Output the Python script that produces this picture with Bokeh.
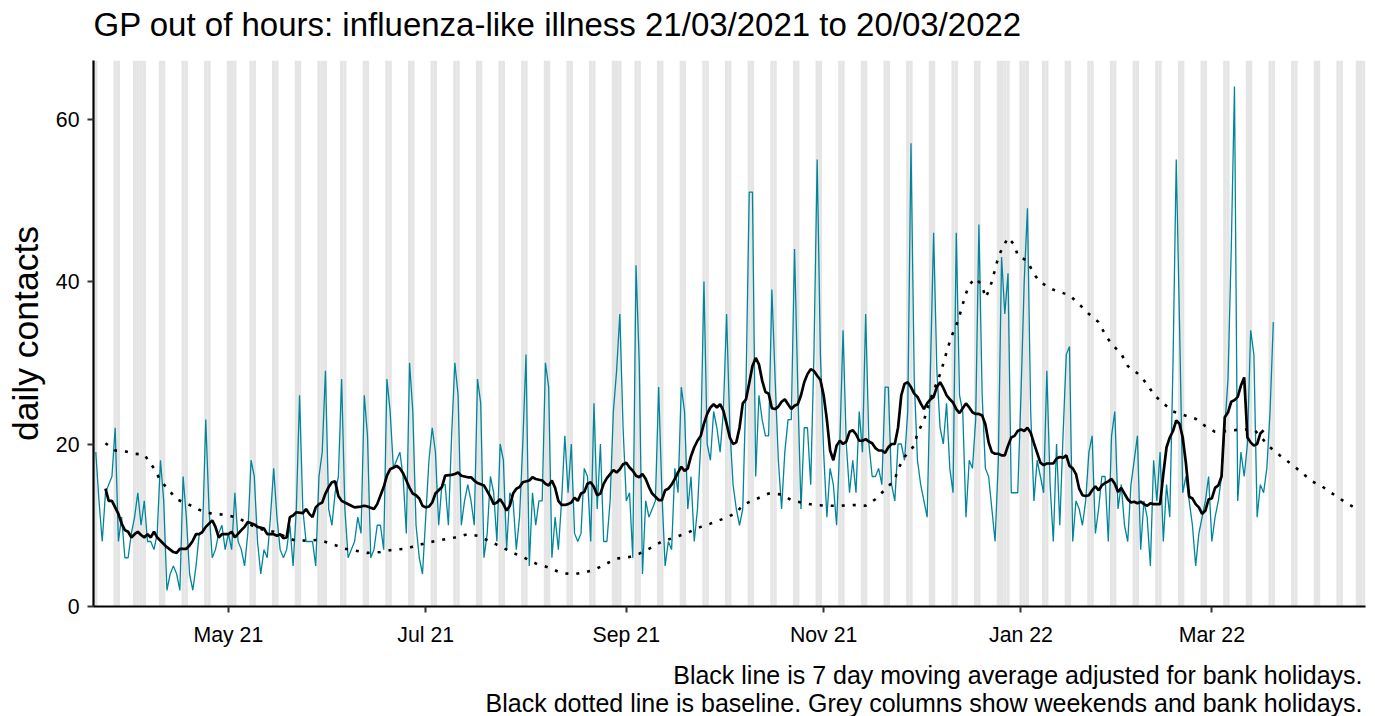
import pandas as pd
from bokeh.plotting import figure
from bokeh.models import (Range1d, FixedTicker, DatetimeTickFormatter, Title,
                          LinearAxis, CustomJSTickFormatter)
from bokeh.embed import file_html
from bokeh.resources import INLINE

# ---------------- data ----------------
start_date = "2021-03-21"
axis_end_date = "2022-04-17"

# daily contacts, 21/03/2021 .. 20/03/2022 (one value per day)
daily_contacts = [
    19, 13, 8, 14, 15, 16, 22, 8, 11, 6, 6, 9, 11, 14, 10, 13, 8, 8, 7, 9, 18,
    13, 2, 4, 5, 4, 2, 16, 11, 4, 2, 5, 9, 9, 23, 12, 6, 7, 9, 10, 7, 9,
    7, 14, 8, 7, 5, 9, 18, 16, 8, 4, 7, 6, 11, 17, 11, 7, 6, 7, 10, 5, 12,
    26, 12, 8, 8, 8, 5, 16, 19, 29, 12, 10, 14, 16, 28, 12, 6, 7, 8, 11, 9,
    26, 21, 6, 7, 10, 10, 7, 28, 24, 17, 18, 19, 16, 9, 30, 24, 10, 6, 4, 11,
    18, 22, 19, 10, 15, 15, 10, 21, 30, 26, 10, 13, 15, 13, 10, 28, 25, 6, 9,
    16, 14, 8, 20, 18, 7, 14, 13, 7, 11, 20, 31, 5, 14, 10, 13, 13, 30, 27, 6,
    11, 7, 13, 21, 14, 20, 9, 8, 9, 17, 16, 8, 25, 12, 20, 8, 8, 13, 24, 29,
    36, 22, 13, 14, 6, 42, 30, 4, 13, 11, 12, 13, 27, 14, 5, 8, 7, 17, 14, 27,
    24, 12, 16, 8, 12, 20, 40, 20, 18, 24, 22, 19, 24, 36, 22, 15, 12, 10, 12,
    27, 51, 51, 16, 26, 23, 21, 21, 39, 28, 18, 12, 19, 23, 23, 44, 27, 12, 22,
    22, 15, 31, 55, 31, 19, 11, 17, 15, 10, 20, 34, 20, 14, 18, 14, 24, 19, 36,
    20, 16, 16, 17, 15, 27, 27, 15, 13, 20, 20, 18, 24, 57, 28, 18, 15, 13, 11,
    29, 46, 29, 22, 20, 25, 17, 14, 46, 26, 24, 11, 18, 17, 23, 47, 26, 17, 16,
    12, 8, 18, 43, 36, 41, 14, 14, 14, 26, 40, 49, 24, 13, 18, 16, 14, 29, 15,
    8, 20, 10, 21, 31, 32, 8, 13, 12, 10, 13, 19, 21, 9, 12, 16, 16, 8, 21, 24,
    12, 15, 10, 8, 15, 18, 21, 7, 13, 11, 5, 18, 13, 19, 8, 15, 11, 30, 55, 35,
    14, 16, 13, 10, 5, 9, 11, 13, 16, 8, 11, 13, 16, 22, 28, 44, 64, 13, 19,
    16, 20, 34, 31, 11, 15, 14, 17, 24, 35,
]

# 7 day moving average (day number counted from 21/03/2021, value)
ma_day = [
    3, 4, 5, 6, 7, 8, 9, 10, 11, 12, 13, 14, 15, 16, 17, 18, 19, 20, 21, 22, 24,
    25, 26, 28, 29, 30, 31, 32, 33, 34, 35, 36, 37, 38, 39, 41, 42, 43, 45, 46,
    47, 49, 50, 52, 53, 55, 56, 57, 58, 59, 60, 61, 62, 64, 65, 66, 67, 68, 69,
    70, 71, 72, 73, 74, 75, 76, 77, 79, 80, 82, 83, 84, 86, 87, 89, 90, 91, 93,
    94, 95, 96, 97, 98, 99, 100, 101, 102, 103, 104, 105, 106, 107, 108, 110,
    111, 112, 113, 115, 116, 117, 118, 120, 121, 122, 123, 124, 125, 126, 127,
    128, 129, 130, 131, 132, 134, 135, 136, 138, 139, 140, 141, 142, 143, 144,
    145, 146, 147, 148, 149, 150, 151, 152, 153, 154, 155, 156, 157, 158, 159,
    160, 161, 162, 163, 164, 165, 166, 167, 168, 169, 170, 171, 172, 173, 174,
    175, 176, 177, 178, 179, 180, 181, 182, 183, 184, 185, 186, 187, 188, 189,
    190, 191, 192, 193, 194, 195, 196, 197, 198, 199, 200, 201, 202, 203, 204,
    205, 206, 207, 208, 209, 210, 211, 212, 213, 214, 215, 216, 217, 218, 219,
    220, 221, 222, 223, 224, 225, 226, 227, 228, 229, 230, 231, 232, 233, 234,
    235, 236, 237, 238, 239, 240, 241, 242, 243, 244, 245, 246, 247, 248, 249,
    250, 251, 252, 253, 254, 255, 256, 257, 258, 259, 260, 261, 262, 263, 264,
    265, 266, 267, 268, 269, 270, 271, 272, 273, 274, 275, 276, 277, 278, 279,
    280, 281, 282, 283, 284, 285, 286, 287, 288, 289, 290, 291, 292, 293, 294,
    296, 297, 298, 299, 300, 301, 302, 303, 304, 305, 306, 307, 308, 309, 310,
    311, 312, 313, 314, 315, 316, 317, 318, 319, 320, 321, 322, 323, 324, 325,
    326, 327, 329, 330, 331, 332, 333, 334, 335, 336, 337, 338, 339, 340, 341,
    342, 343, 344, 345, 346, 347, 348, 349, 350, 351, 352, 353, 354, 355, 356,
    357, 358, 359, 360, 361,
]
ma_value = [
    14.5, 13.0, 13.0, 12.2, 11.4, 10.2, 9.4, 9.2, 8.5, 8.9, 9.2, 8.8, 8.5, 8.9,
    8.5, 9.2, 8.5, 8.1, 7.7, 7.3, 6.7, 6.6, 7.1, 7.1, 7.5, 8.1, 8.9, 8.9, 9.2,
    9.8, 10.2, 10.6, 9.8, 8.5, 8.9, 8.9, 9.2, 8.5, 9.4, 9.8, 10.4, 10.1, 9.8,
    9.6, 8.9, 8.9, 8.7, 8.9, 8.4, 8.5, 11.0, 11.2, 11.6, 11.5, 12.0, 11.4, 11.0,
    12.2, 12.6, 12.8, 13.9, 14.7, 15.3, 15.4, 13.6, 13.0, 12.8, 12.4, 12.2,
    12.3, 12.4, 12.3, 12.0, 12.6, 14.7, 16.1, 16.9, 17.3, 17.0, 16.4, 15.5,
    14.6, 13.9, 13.7, 13.3, 12.4, 12.2, 12.3, 12.8, 13.9, 14.3, 14.7, 16.1,
    16.2, 16.3, 16.5, 16.1, 15.9, 15.9, 15.5, 15.2, 14.9, 14.2, 13.5, 12.6,
    12.8, 13.2, 12.6, 11.8, 12.4, 13.9, 14.5, 14.7, 15.3, 15.5, 15.9, 15.7,
    15.5, 15.1, 14.9, 15.5, 14.6, 13.0, 12.5, 12.5, 12.6, 12.8, 13.4, 13.0,
    13.9, 14.1, 15.1, 15.3, 14.7, 13.7, 13.9, 15.1, 15.8, 16.3, 16.8, 16.5,
    16.9, 17.5, 17.7, 17.1, 16.7, 16.1, 15.9, 16.3, 15.7, 14.7, 13.9, 13.5,
    13.1, 13.1, 14.3, 14.5, 15.0, 15.7, 16.5, 17.2, 16.7, 17.0, 18.5, 19.6,
    20.4, 21.0, 22.5, 23.7, 24.5, 24.9, 24.5, 24.9, 24.1, 22.5, 20.8, 20.0,
    20.2, 22.0, 25.0, 25.5, 27.5, 29.6, 30.6, 29.8, 27.8, 26.4, 26.2, 24.4,
    24.3, 24.6, 25.2, 25.5, 24.9, 24.3, 24.7, 24.9, 26.0, 27.6, 28.6, 29.2,
    29.0, 28.4, 27.9, 26.0, 23.0, 19.2, 18.0, 19.8, 20.4, 20.0, 20.3, 21.5,
    21.7, 21.2, 20.4, 20.4, 20.6, 20.3, 20.1, 19.5, 19.2, 19.2, 18.9, 19.6,
    20.0, 20.0, 22.0, 26.0, 27.4, 27.6, 27.0, 26.2, 25.8, 25.0, 24.3, 25.0,
    25.5, 25.8, 27.0, 27.6, 26.9, 26.0, 25.5, 25.1, 24.3, 23.8, 24.4, 25.0,
    24.5, 23.9, 23.7, 23.7, 23.5, 22.4, 20.2, 19.0, 18.8, 18.8, 18.6, 18.6,
    19.8, 20.8, 21.0, 21.6, 21.8, 21.6, 22.0, 21.4, 20.1, 18.9, 17.7, 17.4,
    17.6, 17.6, 18.2, 18.4, 18.3, 18.6, 17.3, 17.0, 16.3, 14.5, 13.7, 13.6,
    13.7, 14.3, 14.8, 14.3, 14.9, 15.2, 15.4, 15.7, 15.1, 14.1, 14.6, 13.9,
    13.2, 12.8, 12.9, 12.7, 12.9, 12.6, 12.4, 12.7, 12.6, 12.6, 16.3, 19.6,
    20.8, 21.6, 22.9, 22.5, 20.8, 17.6, 13.5, 13.3, 12.6, 12.2, 11.4, 11.8,
    13.2, 13.3, 14.6, 14.9, 16.0, 23.3, 23.9, 25.2, 25.4, 25.8, 27.2, 28.2,
    20.8, 20.2, 19.8, 20.0, 21.3, 21.7,
]

# baseline (day number counted from 21/03/2021, value)
baseline_day = [
    3, 6, 9, 12, 15, 18, 20, 22, 25, 29, 32, 36, 40, 44, 50, 55, 61, 65, 69, 73,
    77, 80, 84, 88, 92, 96, 99, 103, 107, 111, 115, 118, 122, 125, 129, 133,
    136, 140, 144, 148, 151, 154, 158, 161, 165, 168, 172, 175, 179, 183, 187,
    190, 194, 198, 200, 204, 208, 212, 215, 219, 222, 226, 230, 234, 238, 241,
    244, 247, 248, 250, 253, 254, 256, 258, 261, 262, 263, 264, 265, 266, 267,
    268, 269, 270, 272, 274, 275, 276, 277, 278, 279, 280, 282, 284, 285, 288,
    290, 292, 296, 301, 304, 307, 310, 312, 314, 317, 319, 322, 325, 327, 330,
    333, 336, 340, 343, 346, 350, 354, 358, 363, 366, 370, 373, 376, 379, 383,
    386, 389,
]
baseline_value = [
    20.1, 19.2, 19.1, 18.8, 18.7, 17.0, 15.5, 14.6, 13.2, 12.5, 11.9, 11.4,
    11.3, 10.9, 9.6, 9.2, 8.2, 8.1, 8.2, 7.7, 7.1, 6.9, 6.6, 6.7, 7.0, 7.1,
    7.5, 7.9, 8.2, 8.5, 8.9, 8.7, 8.0, 7.4, 6.6, 5.9, 5.3, 4.8, 4.1, 4.0, 4.2,
    4.5, 5.3, 5.9, 6.1, 6.5, 7.3, 8.0, 8.5, 9.1, 9.8, 10.2, 10.8, 11.5, 12.5,
    13.2, 13.9, 13.8, 13.1, 12.7, 12.5, 12.4, 12.4, 12.5, 12.4, 13.2, 14.4,
    15.6, 16.9, 18.4, 19.8, 21.3, 22.9, 25.5, 28.6, 29.9, 31.3, 32.6, 33.7,
    34.6, 35.8, 37.2, 38.5, 39.6, 40.4, 39.5, 38.0, 38.8, 40.0, 41.5, 43.0,
    43.9, 45.4, 44.5, 43.2, 42.5, 40.9, 39.9, 39.0, 38.3, 37.2, 36.0, 35.0,
    33.5, 32.3, 31.1, 29.6, 28.7, 27.4, 26.1, 25.0, 24.0, 23.6, 23.1, 22.2,
    21.5, 21.6, 21.8, 21.8, 19.6, 18.6, 17.4, 16.4, 15.4, 14.8, 13.7, 12.9,
    12.2,
]

bank_holidays = [
    "2021-04-02", "2021-04-05", "2021-05-03", "2021-05-31", "2021-08-30",
    "2021-12-27", "2021-12-28", "2022-01-03", "2022-04-15",
]

tick_dates = ["2021-05-01", "2021-07-01", "2021-09-01", "2021-11-01",
              "2022-01-01", "2022-03-01"]
y_ticks = [0, 20, 40, 60]
Y_MAX = 67.2

title_text = "GP out of hours: influenza-like illness 21/03/2021 to 20/03/2022"
caption_1 = "Black line is 7 day moving average adjusted for bank holidays."
caption_2 = ("Black dotted line is baseline. Grey columns show weekends "
             "and bank holidays.")

# ---------------- derived ----------------
t0 = pd.Timestamp(start_date)
DAY_MS = 86400000.0


def to_ms(ts):
    return (pd.Timestamp(ts) - pd.Timestamp("1970-01-01")) / pd.Timedelta(milliseconds=1)


dates = pd.date_range(t0, periods=len(daily_contacts), freq="D")
ma_dates = [t0 + pd.Timedelta(days=d) for d in ma_day]
base_dates = [t0 + pd.Timedelta(days=d) for d in baseline_day]

bh = set(pd.to_datetime(bank_holidays))
all_days = pd.date_range(t0, pd.Timestamp(axis_end_date), freq="D")
grey_days = [d for d in all_days if d.weekday() >= 5 or d in bh]

FONT = "Liberation Sans"

p = figure(
    width=1375, height=716,
    x_axis_type="datetime",
    x_range=Range1d(to_ms(t0) - 0.7 * DAY_MS, to_ms(axis_end_date) + 0.5 * DAY_MS),
    y_range=Range1d(0, Y_MAX),
    output_backend="svg", toolbar_location=None,
    min_border_left=93, min_border_right=10, min_border_top=60, min_border_bottom=110,
)
p.outline_line_color = None
p.grid.visible = False
p.background_fill_color = "white"
p.title.text = ""

# grey columns
p.vbar(x=grey_days, width=DAY_MS, bottom=0, top=Y_MAX,
       fill_color="#E5E5E5", line_color=None)

# series
p.line(dates, daily_contacts, line_color="#00859B", line_width=1.3)
p.line(base_dates, baseline_value, line_color="black", line_width=2.6,
       line_dash="3 8")
p.line(ma_dates, ma_value, line_color="black", line_width=2.7)

# axes
xa = p.xaxis[0]
xa.ticker = FixedTicker(ticks=[to_ms(d) for d in tick_dates])
xa.formatter = DatetimeTickFormatter(days="%b %y", months="%b %y", years="%b %y")
xa.minor_tick_line_color = None
xa.axis_line_color = "black"
xa.axis_line_width = 2.2
xa.major_tick_line_color = "#333333"
xa.major_tick_line_width = 2
xa.major_tick_in = 0
xa.major_tick_out = 6
xa.major_label_text_font = FONT
xa.major_label_text_font_size = "21.3px"
xa.major_label_text_color = "black"
xa.major_label_standoff = 10

ya = p.yaxis[0]
ya.ticker = FixedTicker(ticks=y_ticks)
ya.minor_tick_line_color = None
ya.axis_line_color = "black"
ya.axis_line_width = 2.2
ya.major_tick_line_color = "#333333"
ya.major_tick_line_width = 2
ya.major_tick_in = 0
ya.major_tick_out = 6
ya.major_label_text_font = FONT
ya.major_label_text_font_size = "21.3px"
ya.major_label_text_color = "black"
ya.major_label_standoff = 8
ya.axis_label = "daily contacts"
ya.axis_label_text_font = FONT
ya.axis_label_text_font_size = "35.5px"
ya.axis_label_text_font_style = "normal"
ya.axis_label_text_color = "black"
ya.axis_label_standoff = 7

# a blank axis (white tick, empty label) that only reserves room
# between the frame and the title
gap_above = LinearAxis(ticker=FixedTicker(ticks=[to_ms("2021-10-01")]),
                       formatter=CustomJSTickFormatter(code="return ''"),
                       axis_line_color=None, major_tick_line_color="white",
                       minor_tick_line_color=None, major_tick_in=0,
                       major_tick_out=16, minor_tick_out=0,
                       major_label_standoff=0)
p.add_layout(gap_above, "above")

main_title = Title(text=title_text, align="left", offset=0, vertical_align="top",
                   text_font=FONT, text_font_size="33px", text_font_style="normal",
                   text_color="black", standoff=0)
p.add_layout(main_title, "above")

# captions (right aligned, below the plot)
cap1 = Title(text=caption_1, align="right", offset=3, vertical_align="bottom",
             text_font=FONT, text_font_size="25px", text_font_style="normal",
             text_color="black", standoff=19)
p.add_layout(cap1, "below")
cap2 = Title(text=caption_2, align="right", offset=3, vertical_align="bottom",
             text_font=FONT, text_font_size="25px", text_font_style="normal",
             text_color="black", standoff=0)
try:
    cap2.standoff = -24
except Exception:
    pass
p.add_layout(cap2, "below")

open("out.html", "w").write(file_html(p, INLINE))
